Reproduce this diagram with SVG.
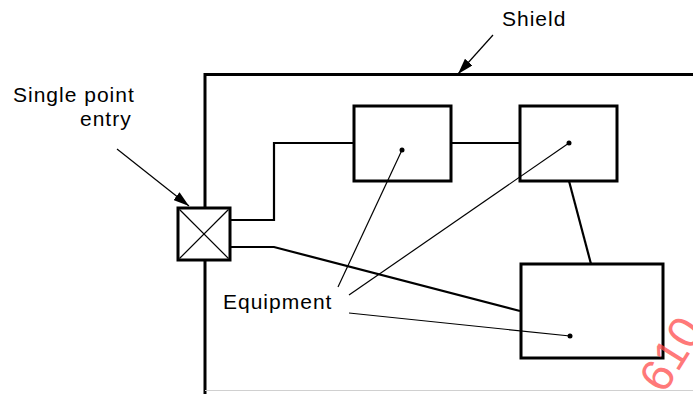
<svg xmlns="http://www.w3.org/2000/svg" width="693" height="394" viewBox="0 0 693 394">
<style>
.txt{font-family:"Liberation Sans",Arial,sans-serif;font-size:21px;letter-spacing:1px;fill:#000}
.box{fill:#fff;stroke:#000;stroke-width:3}
.wire{fill:none;stroke:#000;stroke-width:2.2}
.lead{fill:none;stroke:#000;stroke-width:1.2}
.dot{fill:#000}
</style>
<defs>
<marker id="ah" markerUnits="userSpaceOnUse" markerWidth="16" markerHeight="10" refX="16" refY="5" orient="auto">
<path d="M0,0 L16,5 L0,10 z" fill="#000"/>
</marker>
</defs>
<rect width="693" height="394" fill="#fff"/>
<g id="shield">
<path d="M205,394 V74.5 H693" fill="none" stroke="#000" stroke-width="3"/>
</g>
<line x1="205" y1="390.5" x2="693" y2="390.5" stroke="#d0d0d0" stroke-width="1"/>
<g id="entry">
<rect class="box" x="178" y="208" width="52" height="52"/>
<line class="lead" x1="179.5" y1="209.5" x2="228.5" y2="258.5"/>
<line class="lead" x1="228.5" y1="209.5" x2="179.5" y2="258.5"/>
</g>
<g id="equip1">
<rect class="box" x="354" y="106" width="97" height="75"/>
<circle class="dot" cx="402" cy="150" r="2.5"/>
</g>
<g id="equip2">
<rect class="box" x="520" y="106" width="97" height="75"/>
<circle class="dot" cx="569" cy="143" r="2.5"/>
</g>
<g id="equip3">
<rect class="box" x="521" y="264" width="142" height="94"/>
<circle class="dot" cx="570" cy="336" r="2.5"/>
</g>
<g id="connectors">
<polyline class="wire" points="230,220 274,220 274,143 354,143"/>
<line class="wire" x1="451" y1="143" x2="520" y2="143"/>
<polyline class="wire" points="230,247 274,247 520,311"/>
<line class="wire" x1="569" y1="181" x2="591" y2="264"/>
<line class="lead" x1="402" y1="150" x2="338" y2="287"/>
<line class="lead" x1="569" y1="143" x2="349" y2="295"/>
<line class="lead" x1="570" y1="336" x2="349" y2="313"/>
<line class="lead" x1="117" y1="149" x2="189" y2="206" marker-end="url(#ah)"/>
<line class="lead" x1="493" y1="35" x2="458" y2="74" marker-end="url(#ah)"/>
</g>
<g id="labels">
<text class="txt" x="502" y="26">Shield</text>
<text class="txt" x="13" y="102">Single point</text>
<text class="txt" x="80" y="126">entry</text>
<text class="txt" x="223" y="309">Equipment</text>
</g>
<text x="664" y="395" transform="rotate(-58 664 395)" font-family="Liberation Sans,Arial,sans-serif" font-size="46" fill="#ff4d4d" opacity="0.75">610</text>
</svg>
